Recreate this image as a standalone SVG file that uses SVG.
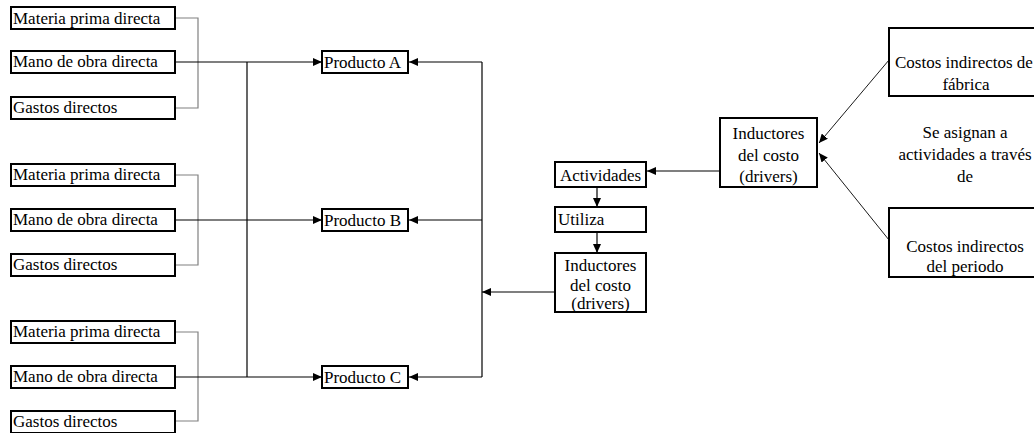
<svg xmlns="http://www.w3.org/2000/svg" width="1034" height="433" viewBox="0 0 1034 433">
  <defs>
    <style>
      .box { fill: #ffffff; stroke: #000000; stroke-width: 2; }
      .t { font-family: "Liberation Serif", "Times New Roman", serif; font-size: 17px; fill: #000000; }
      .c { text-anchor: middle; }
      .bracket { fill: none; stroke: #808080; stroke-width: 1.2; }
      .line { fill: none; stroke: #000000; stroke-width: 1.2; }
      .arrow { fill: none; stroke: #000000; stroke-width: 1.2; marker-end: url(#head); }
      .thin { fill: none; stroke: #000000; stroke-width: 0.9; marker-end: url(#head); }
    </style>
    <marker id="head" markerUnits="userSpaceOnUse" markerWidth="10" markerHeight="8" refX="9" refY="4" orient="auto">
      <path d="M0,0 L9,4 L0,8 Z" fill="#000000"/>
    </marker>
  </defs>

  <!-- connectors -->
  <g id="connectors">
    <!-- brackets joining each group of direct costs -->
    <path class="bracket" d="M176,18 H198 V108 H176"/>
    <path class="bracket" d="M176,175 H198 V265 H176"/>
    <path class="bracket" d="M176,332 H198 V421 H176"/>
    <!-- direct costs into products -->
    <path class="arrow" d="M176,62 H322"/>
    <path class="arrow" d="M176,220 H322"/>
    <path class="arrow" d="M176,377 H322"/>
    <path class="line" d="M247,62 V377"/>
    <!-- cost drivers into products -->
    <path class="line" d="M482,62 V377"/>
    <path class="arrow" d="M482,62 H409"/>
    <path class="arrow" d="M482,220 H409"/>
    <path class="arrow" d="M482,377 H409"/>
    <path class="arrow" d="M555,292 H482"/>
    <!-- activity chain -->
    <path class="arrow" d="M720,171 H647"/>
    <path class="arrow" d="M597,188 V207"/>
    <path class="arrow" d="M597,233 V253"/>
    <!-- indirect costs to drivers -->
    <path class="thin" d="M889,60 L819,143"/>
    <path class="thin" d="M889,240 L819,153"/>
  </g>

  <!-- group A inputs -->
  <g id="mp1"><rect class="box" x="11" y="7" width="164" height="22"/><text class="t" x="13" y="24">Materia prima directa</text></g>
  <g id="mo1"><rect class="box" x="11" y="51" width="164" height="22"/><text class="t" x="13" y="67">Mano de obra directa</text></g>
  <g id="gd1"><rect class="box" x="11" y="97" width="164" height="22"/><text class="t" x="13" y="113">Gastos directos</text></g>

  <!-- group B inputs -->
  <g id="mp2"><rect class="box" x="11" y="164" width="164" height="22"/><text class="t" x="13" y="180">Materia prima directa</text></g>
  <g id="mo2"><rect class="box" x="11" y="209" width="164" height="22"/><text class="t" x="13" y="225">Mano de obra directa</text></g>
  <g id="gd2"><rect class="box" x="11" y="254" width="164" height="22"/><text class="t" x="13" y="270">Gastos directos</text></g>

  <!-- group C inputs -->
  <g id="mp3"><rect class="box" x="11" y="321" width="164" height="22"/><text class="t" x="13" y="337">Materia prima directa</text></g>
  <g id="mo3"><rect class="box" x="11" y="366" width="164" height="22"/><text class="t" x="13" y="382">Mano de obra directa</text></g>
  <g id="gd3"><rect class="box" x="11" y="411" width="164" height="22"/><text class="t" x="13" y="427">Gastos directos</text></g>

  <!-- products -->
  <g id="productoA"><rect class="box" x="322" y="51" width="86" height="22"/><text class="t" x="324" y="68">Producto A</text></g>
  <g id="productoB"><rect class="box" x="322" y="209" width="86" height="22"/><text class="t" x="324" y="226">Producto B</text></g>
  <g id="productoC"><rect class="box" x="322" y="366" width="86" height="22"/><text class="t" x="324" y="383">Producto C</text></g>

  <!-- activity chain -->
  <g id="actividades"><rect class="box" x="555" y="162" width="91" height="25"/><text class="t" x="560" y="181">Actividades</text></g>
  <g id="utiliza"><rect class="box" x="555" y="207" width="91" height="25"/><text class="t" x="558" y="225">Utiliza</text></g>
  <g id="inductores2">
    <rect class="box" x="555" y="253" width="91" height="59"/>
    <text class="t c" x="600.5" y="271">Inductores</text>
    <text class="t c" x="600.5" y="291">del costo</text>
    <text class="t c" x="600.5" y="309">(drivers)</text>
  </g>
  <g id="inductores1">
    <rect class="box" x="720" y="118" width="97" height="69"/>
    <text class="t c" x="768.5" y="139">Inductores</text>
    <text class="t c" x="768.5" y="161">del costo</text>
    <text class="t c" x="768.5" y="182">(drivers)</text>
  </g>

  <!-- indirect costs -->
  <g id="cif">
    <rect class="box" x="889" y="28" width="160" height="68"/>
    <text class="t" x="895" y="68">Costos indirectos de</text>
    <text class="t c" x="966" y="90">fábrica</text>
  </g>
  <g id="nota">
    <text class="t c" x="965" y="138">Se asignan a</text>
    <text class="t c" x="965" y="160">actividades a través</text>
    <text class="t c" x="965" y="182">de</text>
  </g>
  <g id="cip">
    <rect class="box" x="889" y="208" width="160" height="69"/>
    <text class="t c" x="965" y="252">Costos indirectos</text>
    <text class="t c" x="965" y="272">del periodo</text>
  </g>
</svg>
